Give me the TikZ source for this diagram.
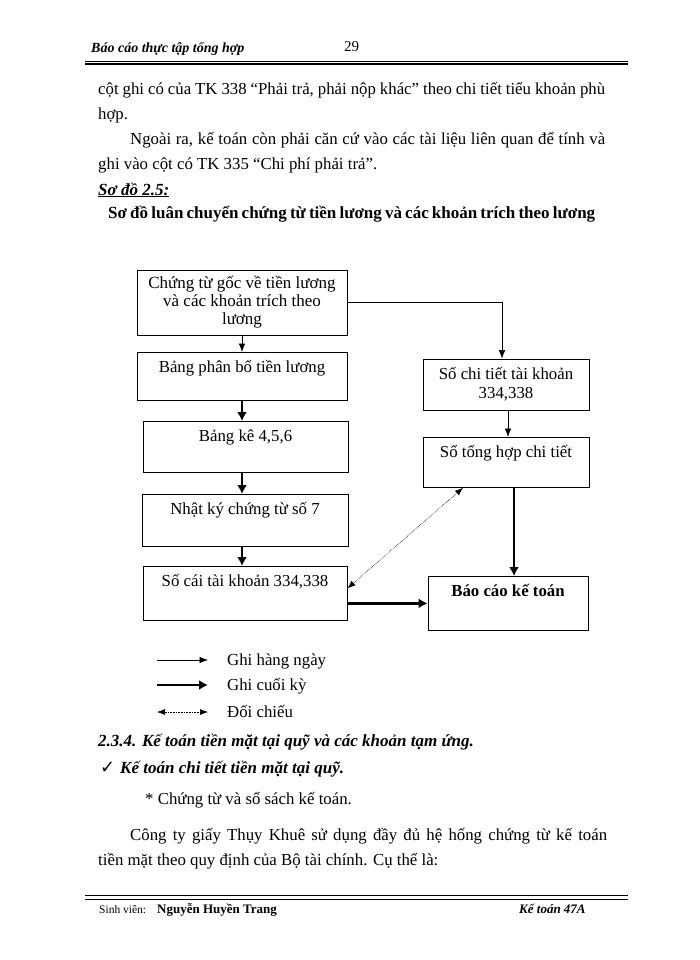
\documentclass[tikz,border=0pt]{standalone}
\usepackage{fontspec}
\setmainfont{Liberation Serif}
\newfontfamily\kyhieu{DejaVu Sans}
\usetikzlibrary{arrows.meta}

\begin{document}
\begin{tikzpicture}[x=1pt, y=-1pt,
  every node/.style={font=\fontsize{16.8}{19}\selectfont, inner sep=0pt},
  txt/.style={anchor=base west},
  dam/.style={font=\fontsize{17}{19}\selectfont\bfseries},
  damnghieng/.style={font=\fontsize{17}{19}\selectfont\bfseries\itshape},
  nodestyle/.style={draw, line width=0.8pt, align=center},
  topbox/.style={draw, line width=0.8pt, anchor=north, text height=20.5pt, text depth=#1},
  pil/.style={-{Latex[length=8.5pt, width=6.5pt]}, line width=0.6pt},
  tjock/.style={-{Latex[length=9pt, width=10pt]}, line width=2.6pt},
  prick/.style={{Latex[length=8pt, width=6pt]}-{Latex[length=8pt, width=6pt]}, line width=0.6pt, densely dotted}]
	 \useasboundingbox (0,0) rectangle (700,960);
	 \node[txt, font=\fontsize{14}{14}\selectfont\bfseries\itshape] (tieude) at (91,53) {Báo cáo thực tập tổng hợp};
	 \node[txt, font=\fontsize{15}{15}\selectfont] (trang) at (344,52) {29};
	 \coordinate (k1) at (85,63);
	 \coordinate (k2) at (628,63);
	 \draw[line width=1.3pt, double, double distance=1pt] (k1) -- (k2);
	 \node[txt] (dong1) at (98,95) {\makebox[507pt][s]{cột ghi có của TK 338 “Phải trả, phải nộp khác” theo chi tiết tiểu khoản phù}};
	 \node[txt] (dong2) at (98,120) {hợp.};
	 \node[txt] (dong3) at (130,145) {\makebox[475pt][s]{Ngoài ra, kế toán còn phải căn cứ vào các tài liệu liên quan để tính và}};
	 \node[txt] (dong4) at (98,170) {ghi vào cột có TK 335 “Chi phí phải trả”.};
	 \node[txt, damnghieng] (sodo) at (98,195) {\underline{Sơ đồ 2.5:}};
	 \node[txt, dam] (tenso) at (108,218) {\makebox[487pt][s]{Sơ đồ luân chuyển chứng từ tiền lương và các khoản trích theo lương}};
	 \node[nodestyle, minimum width=210pt, minimum height=65pt, font=\fontsize{17}{18}\selectfont] (goc) at (242,302.5) {Chứng từ gốc về tiền lương\\ và các khoản trích theo\\ lương};
	 \node[topbox=27.5pt, minimum width=210pt] (phanbo) at (242,352) {Bảng phân bổ tiền lương};
	 \node[topbox=30.5pt, minimum width=205pt] (bangke) at (245.5,421) {Bảng kê 4,5,6};
	 \node[topbox=31.5pt, minimum width=206pt] (nhatky) at (245,494) {Nhật ký chứng từ số 7};
	 \node[topbox=33.5pt, minimum width=204pt] (socai) at (245,566) {Sổ cái tài khoản 334,338};
	 \node[nodestyle, minimum width=166pt, minimum height=51pt] (chitiet) at (506,384.5) {Sổ chi tiết tài khoản\\ 334,338};
	 \node[topbox=29.5pt, minimum width=166pt] (tonghop) at (506,437) {Sổ tổng hợp chi tiết};
	 \node[topbox=33.5pt, minimum width=160pt] (baocao) at (508,576) {\bfseries Báo cáo kế toán};
	 \draw[pil] (goc.east) -| ([xshift=-4pt]chitiet.north);
	 \path
	  (goc) edge[pil] (phanbo)
	  (phanbo.south) edge[tjock] (phanbo.south |- bangke.north)
	  (phanbo.south |- bangke.south) edge[tjock] (phanbo.south |- nhatky.north)
	  (phanbo.south |- nhatky.south) edge[tjock] (phanbo.south |- socai.north)
	  ([xshift=2pt]chitiet.south) edge[pil] ([xshift=2pt]tonghop.north)
	  ([xshift=8pt]tonghop.south) edge[tjock] ([xshift=8pt]tonghop.south |- baocao.north)
	  ([yshift=-10pt]socai.east) edge[tjock] ([yshift=-10pt]socai.east -| baocao.west)
	  ([xshift=-43pt]tonghop.south) edge[prick] ([yshift=5pt]socai.east);
	 \coordinate (h1) at (157,660);
	 \coordinate (h2) at (208,660);
	 \coordinate (c1) at (157,685);
	 \coordinate (c2) at (208,685);
	 \coordinate (d1) at (157,712);
	 \coordinate (d2) at (208,712);
	 \draw[pil] (h1) -- (h2);
	 \draw[tjock] (c1) -- (c2);
	 \draw[prick] (d1) -- (d2);
	 \node[txt] (hangngay) at (227,665) {Ghi hàng ngày};
	 \node[txt] (cuoiky) at (227,690) {Ghi cuối kỳ};
	 \node[txt] (doichieu) at (227,717) {Đối chiếu};
	 \node[txt, damnghieng] (muc) at (98,746) {2.3.4. Kế toán tiền mặt tại quỹ và các khoản tạm ứng.};
	 \node[txt, font=\kyhieu\fontsize{18}{18}\selectfont] (dau) at (100,773) {✓};
	 \node[txt, damnghieng] (quy) at (120,773) {Kế toán chi tiết tiền mặt tại quỹ.};
	 \node[txt] (chungtu) at (145,804) {* Chứng từ và sổ sách kế toán.};
	 \node[txt] (congty) at (130,840) {\makebox[477pt][s]{Công ty giấy Thụy Khuê sử dụng đầy đủ hệ hống chứng từ kế toán}};
	 \node[txt] (tienmat) at (98,865) {tiền mặt theo quy định của Bộ tài chính. Cụ thể là:};
	 \coordinate (m1) at (85,897.5);
	 \coordinate (m2) at (628,897.5);
	 \draw[line width=1pt, double, double distance=2.5pt] (m1) -- (m2);
	 \node[txt, font=\fontsize{11.5}{12}\selectfont] (sv) at (99,913) {Sinh viên:};
	 \node[txt, font=\fontsize{13}{13}\selectfont\bfseries] (ten) at (157,913) {Nguyễn Huyền Trang};
	 \node[txt, font=\fontsize{13}{13}\selectfont\bfseries\itshape] (lop) at (519,913) {Kế toán 47A};
	\end{tikzpicture}
\end{document}
